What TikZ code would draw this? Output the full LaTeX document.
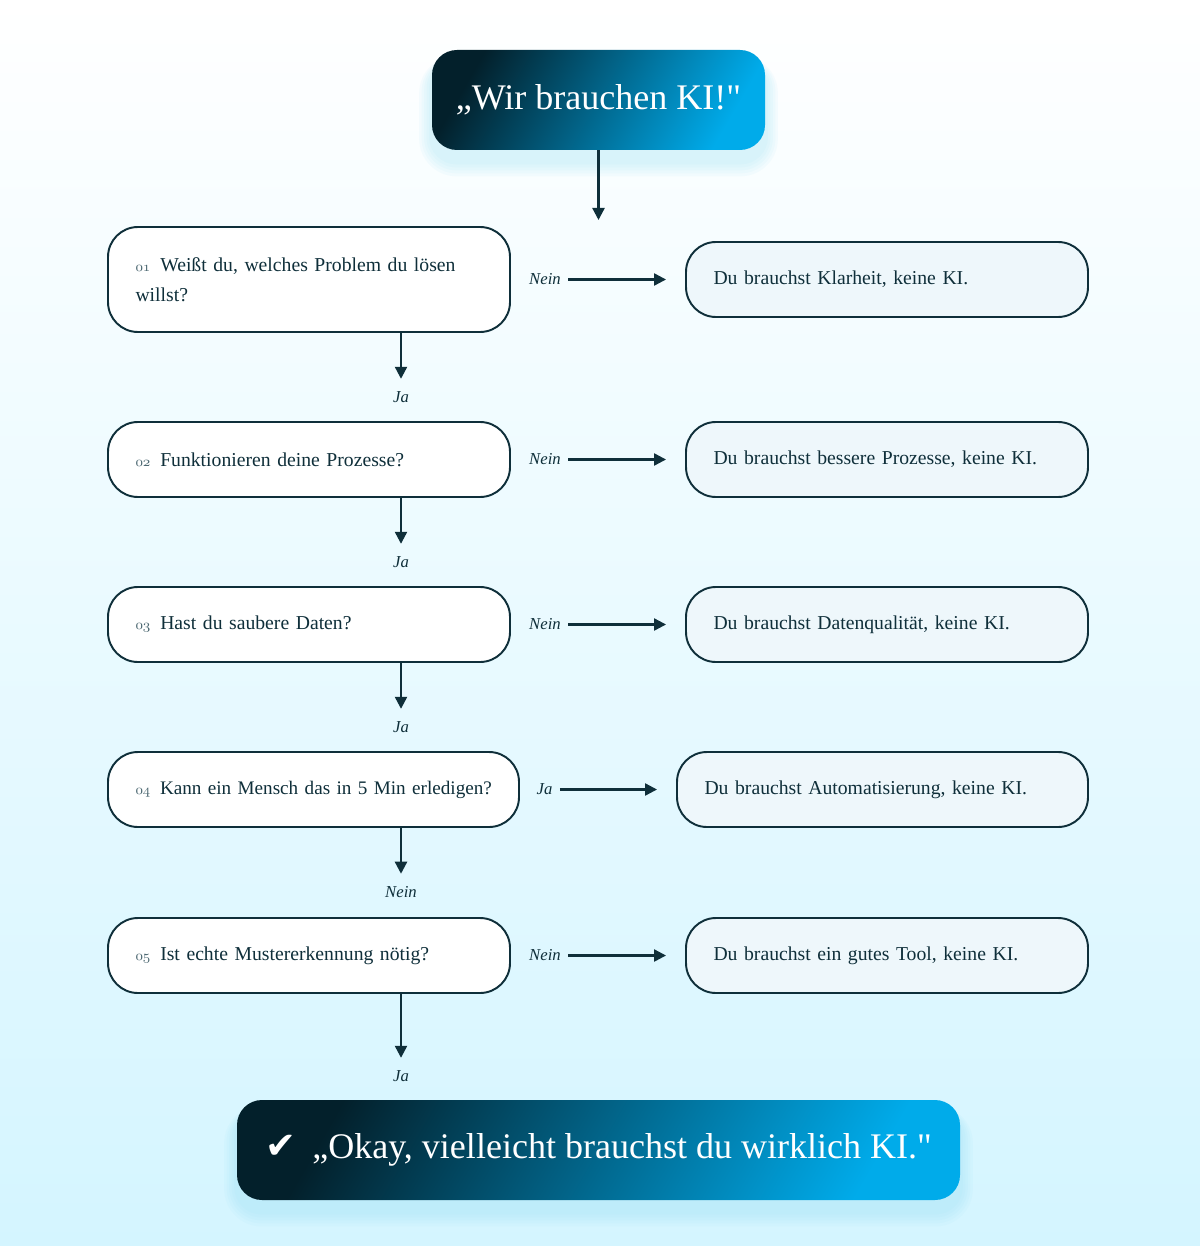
\documentclass[tikz,border=0pt]{standalone}
\usepackage{fontspec}
\setmainfont{Liberation Serif}
\usetikzlibrary{arrows.meta,positioning,calc,backgrounds}
\newfontfamily\symfont{DejaVu Sans}

\definecolor{kink}{HTML}{0F2F3A}
\definecolor{kidark}{HTML}{03202B}
\definecolor{kimid}{HTML}{06425A}
\definecolor{kiblue}{HTML}{00ABEA}
\definecolor{kibg}{HTML}{D4F5FF}
\definecolor{kiglow}{HTML}{8FDFFA}
\definecolor{kianswer}{HTML}{EEF7FB}
\definecolor{kinum}{HTML}{4A6670}

\newcommand\fnr[1]{{\fontsize{8}{7}\selectfont\color{kinum}$\mathnormal{#1}$}\enspace}

\tikzset{
  frage/.style={draw=kink,line width=1.1pt,fill=white,rounded corners=0.6cm,text=kink,
    inner xsep=0.55cm,inner ysep=0pt,align=left,minimum height=1.5cm,
    text width=6.94cm,font=\fontsize{11.2}{17}\selectfont},
  antwort/.style={frage,fill=kianswer},
  ziel/.style={rounded corners=0.5cm,text=white,left color=kidark,middle color=kimid,
    right color=kiblue,shading angle=60,minimum height=2cm,inner sep=0pt,
    font=\fontsize{20.5}{24}\selectfont},
  zweig/.style={text=kink,inner sep=2pt,font=\itshape\fontsize{9.5}{11}\selectfont},
  pfeil/.style={kink,line width=1.3pt,-{Triangle[length=2.4mm,width=2.4mm]}}
}

\begin{document}
\begin{tikzpicture}
  % start und ziel
  \node[ziel,minimum width=6.66cm] (start) at (11.97,-2.0) {„Wir brauchen KI!\textquotedbl};
  \coordinate (entry) at (11.97,-4.4);
  \draw[pfeil] (start) -- (entry);

  % fragen links
  \node[frage,minimum height=2.1cm] (q1) at (6.18,-5.59) {\fnr{01}Weißt du, welches Problem du lösen\\willst?};
  \node[frage] (q2) at (6.18,-9.19) {\fnr{02}Funktionieren deine Prozesse?};
  \node[frage] (q3) at (6.18,-12.49) {\fnr{03}Hast du saubere Daten?};
  \node[frage,text width=7.12cm,font=\fontsize{10.9}{17}\selectfont] (q4) at (6.27,-15.79) {\mbox{\fnr{04}Kann ein Mensch das in 5 Min erledigen?}};
  \node[frage] (q5) at (6.18,-19.11) {\fnr{05}Ist echte Mustererkennung nötig?};

  % antworten rechts
  \node[antwort] (a1) at (17.74,-5.59) {Du brauchst Klarheit, keine KI.};
  \node[antwort] (a2) at (17.74,-9.19) {Du brauchst bessere Prozesse, keine KI.};
  \node[antwort] (a3) at (17.74,-12.49) {Du brauchst Datenqualität, keine KI.};
  \node[antwort,text width=7.12cm] (a4) at (17.65,-15.79) {Du brauchst Automatisierung, keine KI.};
  \node[antwort] (a5) at (17.74,-19.11) {Du brauchst ein gutes Tool, keine KI.};

  % seitliche zweige
  \node[zweig] (h1) at (10.9,-5.59) {Nein};
  \node[zweig] (h2) at (10.9,-9.19) {Nein};
  \node[zweig] (h3) at (10.9,-12.49) {Nein};
  \node[zweig] (h4) at (10.89,-15.79) {Ja};
  \node[zweig] (h5) at (10.9,-19.11) {Nein};
  \foreach \i in {1,...,5}
    \draw[pfeil,shorten <=2pt,shorten >=0.38cm] (h\i) -- (a\i);

  % zweige nach unten
  \node[zweig] (v1) at (8.02,-7.94) {Ja};
  \node[zweig] (v2) at (8.02,-11.24) {Ja};
  \node[zweig] (v3) at (8.02,-14.54) {Ja};
  \node[zweig] (v4) at (8.02,-17.84) {Nein};
  \node[zweig] (v5) at (8.02,-21.52) {Ja};
  \foreach \i in {1,...,5}
    \draw[pfeil,shorten >=5pt] (q\i.south -| v\i) -- (v\i.north);

  \node[ziel,minimum width=14.46cm] (ende) at (11.97,-23.0)
    {{\symfont\fontsize{21}{20}\selectfont ✔}\hspace{0.45em}„Okay, vielleicht brauchst du wirklich KI.\textquotedbl};

  % hintergrund und leuchten
  \begin{pgfonlayer}{background}
    \fill[top color=white,bottom color=kibg,shading angle=0] (0,0) rectangle (24,-24.92);
    \useasboundingbox (0,0) rectangle (24,-24.92);
    \foreach \g in {1,...,5} {
      \fill[kiglow,opacity=0.07,rounded corners=0.5cm+\g*0.05cm]
        ($(start.south west)+(-\g*0.05,-\g*0.06-0.22)$) rectangle ($(start.north east)+(\g*0.05,\g*0.02-0.22)$);
      \fill[kiglow,opacity=0.07,rounded corners=0.5cm+\g*0.05cm]
        ($(ende.south west)+(-\g*0.05,-\g*0.06-0.22)$) rectangle ($(ende.north east)+(\g*0.05,\g*0.02-0.22)$);
    }
  \end{pgfonlayer}
\end{tikzpicture}
\end{document}
